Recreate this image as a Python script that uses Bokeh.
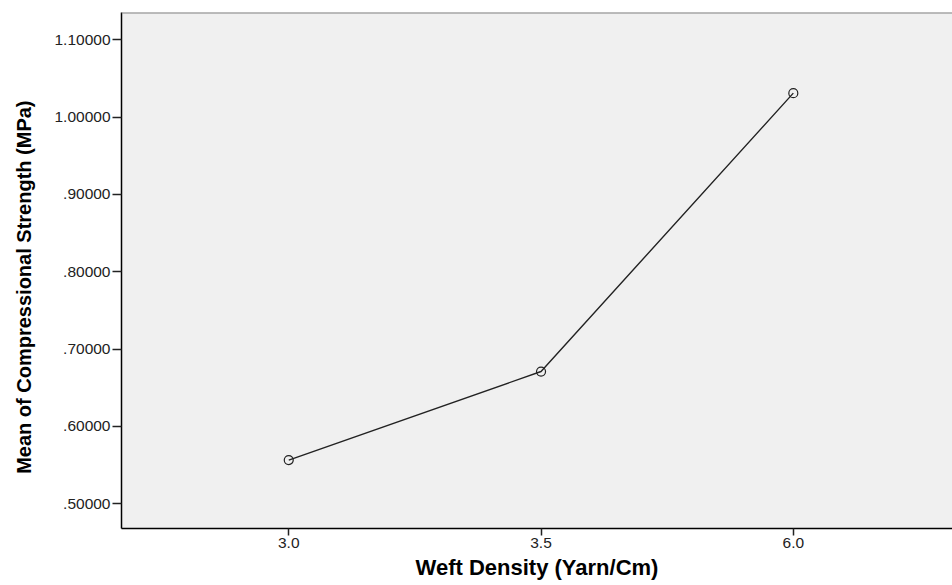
from bokeh.plotting import figure
from bokeh.models import FixedTicker, Span, Range1d, ColumnDataSource
from bokeh.embed import file_html
from bokeh.resources import INLINE

# Data
categories = ["3.0", "3.5", "6.0"]
means = [0.5565, 0.671, 1.031]
y_ticks = [0.5, 0.6, 0.7, 0.8, 0.9, 1.0, 1.1]
y_tick_labels = [".50000", ".60000", ".70000", ".80000", ".90000", "1.00000", "1.10000"]
x_title = "Weft Density (Yarn/Cm)"
y_title = "Mean of Compressional Strength (MPa)"

xpos = list(range(len(categories)))
src = ColumnDataSource(dict(x=xpos, y=means, cat=categories))

X0, X1 = -0.663, 2.631
Y0, Y1 = 0.468, 1.1353

p = figure(width=952, height=585, output_backend="svg", toolbar_location=None,
           x_range=Range1d(X0, X1), y_range=Range1d(Y0, Y1))
p.min_border_left = 121
p.min_border_right = 0
p.min_border_top = 12
p.min_border_bottom = 57
p.background_fill_color = "#F0F0F0"
p.border_fill_color = "white"
p.outline_line_color = None
p.grid.visible = False

p.line("x", "y", source=src, line_color="#222222", line_width=1.4)
p.scatter("x", "y", source=src, size=9, marker="circle", fill_color=None,
          line_color="#222222", line_width=1.2)

top = Span(location=Y1, dimension="width", line_color="#808080", line_width=2)
p.add_layout(top)

# x axis
xa = p.xaxis[0]
xa.ticker = FixedTicker(ticks=xpos)
xa.major_label_overrides = {i: c for i, c in zip(xpos, categories)}
xa.axis_label = x_title
xa.axis_label_text_font = "Liberation Sans"
xa.axis_label_text_font_style = "bold"
xa.axis_label_text_font_size = "22px"
xa.axis_label_text_color = "black"
xa.axis_label_standoff = 4
xa.major_label_text_font = "Liberation Sans"
xa.major_label_text_font_size = "15.5px"
xa.major_label_text_color = "#222222"
xa.major_label_standoff = 2
xa.major_tick_out = 7
xa.major_tick_in = 0
xa.minor_tick_out = 0
xa.minor_tick_in = 0
xa.axis_line_color = "black"
xa.axis_line_width = 1.5
xa.major_tick_line_color = "#222222"
xa.major_tick_line_width = 1.5

# y axis (trailing no-break spaces shift the centred title down, as in the reference)
ya = p.yaxis[0]
ya.ticker = FixedTicker(ticks=y_ticks)
ya.major_label_overrides = {t: l for t, l in zip(y_ticks, y_tick_labels)}
ya.axis_label = y_title + "\u00a0" * 6
ya.axis_label_text_font = "Liberation Sans"
ya.axis_label_text_font_style = "bold"
ya.axis_label_text_font_size = "20px"
ya.axis_label_text_color = "black"
ya.axis_label_standoff = 16
ya.major_label_text_font = "Liberation Sans"
ya.major_label_text_font_size = "15.5px"
ya.major_label_text_color = "#222222"
ya.major_label_standoff = 2
ya.major_tick_out = 9
ya.major_tick_in = 0
ya.minor_tick_out = 0
ya.minor_tick_in = 0
ya.axis_line_color = "black"
ya.axis_line_width = 1.5
ya.major_tick_line_color = "#222222"
ya.major_tick_line_width = 1.5

open("out.html", "w").write(file_html(p, INLINE))
